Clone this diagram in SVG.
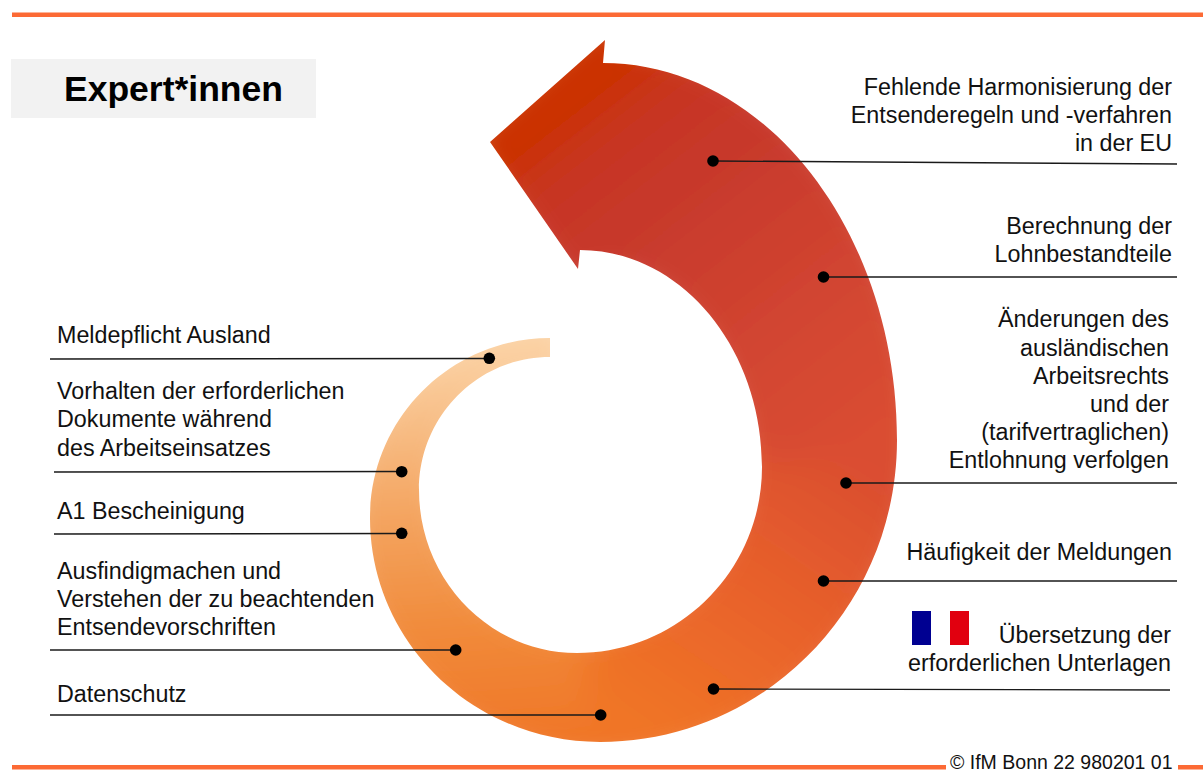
<svg xmlns="http://www.w3.org/2000/svg" width="1203" height="772" viewBox="0 0 1203 772">
<style>
.t{font-family:"Liberation Sans",Arial,sans-serif;font-size:23.3px;fill:#111}
.r{text-anchor:end}
.ln{stroke:#1a1a1a;stroke-width:1.4;fill:none}
.dot{fill:#000}
.rule{fill:#fc6a35}
</style>
<defs>
<linearGradient id="g1" gradientUnits="userSpaceOnUse" x1="560" y1="338" x2="590" y2="742">
<stop offset="0" stop-color="#fbd3a6"/>
<stop offset="0.38" stop-color="#f4a764"/>
<stop offset="0.7" stop-color="#f18a3a"/>
<stop offset="1" stop-color="#f07526"/>
</linearGradient>
<linearGradient id="g2" gradientUnits="userSpaceOnUse" x1="640" y1="720" x2="830" y2="440">
<stop offset="0" stop-color="#f07526"/>
<stop offset="0.5" stop-color="#e8612b"/>
<stop offset="1" stop-color="#da4d30"/>
</linearGradient>
<linearGradient id="g3" gradientUnits="userSpaceOnUse" x1="830" y1="470" x2="560" y2="120">
<stop offset="0" stop-color="#da4d30"/>
<stop offset="0.35" stop-color="#d14430"/>
<stop offset="0.7" stop-color="#c7392c"/>
<stop offset="0.9" stop-color="#c73422"/>
<stop offset="1" stop-color="#cb3300"/>
</linearGradient>
<filter id="soft" filterUnits="userSpaceOnUse" x="0" y="0" width="1203" height="772">
<feGaussianBlur stdDeviation="16"/>
</filter>
<clipPath id="spiralClip">
<path d="M550,338 C450.6,338 370,418.6 370,518 C370,641.7 473,742 600,742 C764,742 897,606.8 897,440 C897,231.8 765.4,63 603,63 L605,40 L490,142 L578,269 L580,250 C680.5,250 762,347.2 762,467 C762,569.7 679.2,653 577,653 C489.7,653 419,580 419,490 C419,416.5 477.6,357 550,357 Z"/>
</clipPath>
<path id="p1" d="M550,338 C450.6,338 370,418.6 370,518 C370,641.7 473,742 600,742 L577,653 C489.7,653 419,580 419,490 C419,416.5 477.6,357 550,357 Z"/>
<path id="p2" d="M600,742 C764,742 897,606.8 897,440 L762,467 C762,569.7 679.2,653 577,653 Z"/>
<path id="p3" d="M897,440 C897,231.8 765.4,63 603,63 L605,40 L490,142 L578,269 L580,250 C680.5,250 762,347.2 762,467 Z"/>
</defs>
<rect width="1203" height="772" fill="#fff"/>
<rect class="rule" x="12" y="12.5" width="1191" height="4.5"/>
<rect class="rule" x="12" y="765" width="934" height="4.5"/>
<rect class="rule" x="1178" y="765" width="25" height="4.5"/>
<g id="title">
<rect x="11" y="59" width="305" height="59" fill="#f2f2f2"/>
<text x="173.5" y="101" text-anchor="middle" font-family="'Liberation Sans',Arial,sans-serif" font-weight="bold" font-size="35.5" fill="#000">Expert*innen</text>
</g>
<g id="spiral" clip-path="url(#spiralClip)">
<g filter="url(#soft)" stroke-linejoin="round">
<use href="#p3" fill="none" stroke="url(#g3)" stroke-width="56"/>
<use href="#p2" fill="none" stroke="url(#g2)" stroke-width="56"/>
<use href="#p1" fill="none" stroke="url(#g1)" stroke-width="56"/>
<use href="#p1" fill="url(#g1)"/>
<use href="#p2" fill="url(#g2)"/>
<use href="#p3" fill="url(#g3)"/>
</g>
</g>
<g id="connectors">
<line class="ln" x1="713" y1="161" x2="1177" y2="164"/>
<line class="ln" x1="823" y1="277" x2="1177" y2="277"/>
<line class="ln" x1="846" y1="483" x2="1177" y2="483"/>
<line class="ln" x1="823" y1="581" x2="1177" y2="581"/>
<line class="ln" x1="713" y1="689" x2="1170" y2="690"/>
<line class="ln" x1="50" y1="359" x2="489" y2="358.5"/>
<line class="ln" x1="54" y1="472" x2="401.5" y2="471.5"/>
<line class="ln" x1="54" y1="534" x2="401.5" y2="533.5"/>
<line class="ln" x1="50" y1="650" x2="456" y2="650"/>
<line class="ln" x1="50" y1="715" x2="600.5" y2="715"/>
<circle class="dot" cx="713" cy="161" r="5.8"/>
<circle class="dot" cx="823.5" cy="277" r="5.8"/>
<circle class="dot" cx="846" cy="483" r="5.8"/>
<circle class="dot" cx="823.5" cy="581" r="5.8"/>
<circle class="dot" cx="713.5" cy="689" r="5.8"/>
<circle class="dot" cx="489.3" cy="358.3" r="5.8"/>
<circle class="dot" cx="401.7" cy="471.7" r="5.8"/>
<circle class="dot" cx="401.7" cy="533.3" r="5.8"/>
<circle class="dot" cx="455.7" cy="650" r="5.8"/>
<circle class="dot" cx="600.7" cy="715" r="5.8"/>
</g>
<g id="n-harmonisierung">
<text class="t r" x="1172" y="95">Fehlende Harmonisierung der</text>
<text class="t r" x="1172" y="123.3">Entsenderegeln und -verfahren</text>
<text class="t r" x="1172" y="151">in der EU</text>
</g>
<g id="n-lohn">
<text class="t r" x="1172" y="234">Berechnung der</text>
<text class="t r" x="1172" y="261.7">Lohnbestandteile</text>
</g>
<g id="n-arbeitsrecht">
<text class="t r" x="1169" y="326.7">Änderungen des</text>
<text class="t r" x="1169" y="355.5">ausländischen</text>
<text class="t r" x="1169" y="383.5">Arbeitsrechts</text>
<text class="t r" x="1169" y="411.7">und der</text>
<text class="t r" x="1169" y="440">(tarifvertraglichen)</text>
<text class="t r" x="1169" y="468.3">Entlohnung verfolgen</text>
</g>
<g id="n-meldungen">
<text class="t r" x="1172" y="560">Häufigkeit der Meldungen</text>
</g>
<g id="n-uebersetzung">
<rect x="912" y="611" width="19" height="34" fill="#000091"/>
<rect x="950" y="611" width="19" height="34" fill="#e1000f"/>
<text class="t r" x="1171" y="643.3">Übersetzung der</text>
<text class="t r" x="1171" y="671">erforderlichen Unterlagen</text>
</g>
<g id="n-meldepflicht">
<text class="t" x="57" y="343.3">Meldepflicht Ausland</text>
</g>
<g id="n-dokumente">
<text class="t" x="57" y="399.3">Vorhalten der erforderlichen</text>
<text class="t" x="57" y="427.3">Dokumente während</text>
<text class="t" x="57" y="455.7">des Arbeitseinsatzes</text>
</g>
<g id="n-a1">
<text class="t" x="57" y="519.3">A1 Bescheinigung</text>
</g>
<g id="n-vorschriften">
<text class="t" x="57" y="579.3">Ausfindigmachen und</text>
<text class="t" x="57" y="607.3">Verstehen der zu beachtenden</text>
<text class="t" x="57" y="635">Entsendevorschriften</text>
</g>
<g id="n-datenschutz">
<text class="t" x="57" y="701.7">Datenschutz</text>
</g>
<g id="copyright">
<text x="950" y="768.5" font-family="'Liberation Sans',Arial,sans-serif" font-size="19.5" fill="#111">© IfM Bonn 22 980201 01</text>
</g>
</svg>
